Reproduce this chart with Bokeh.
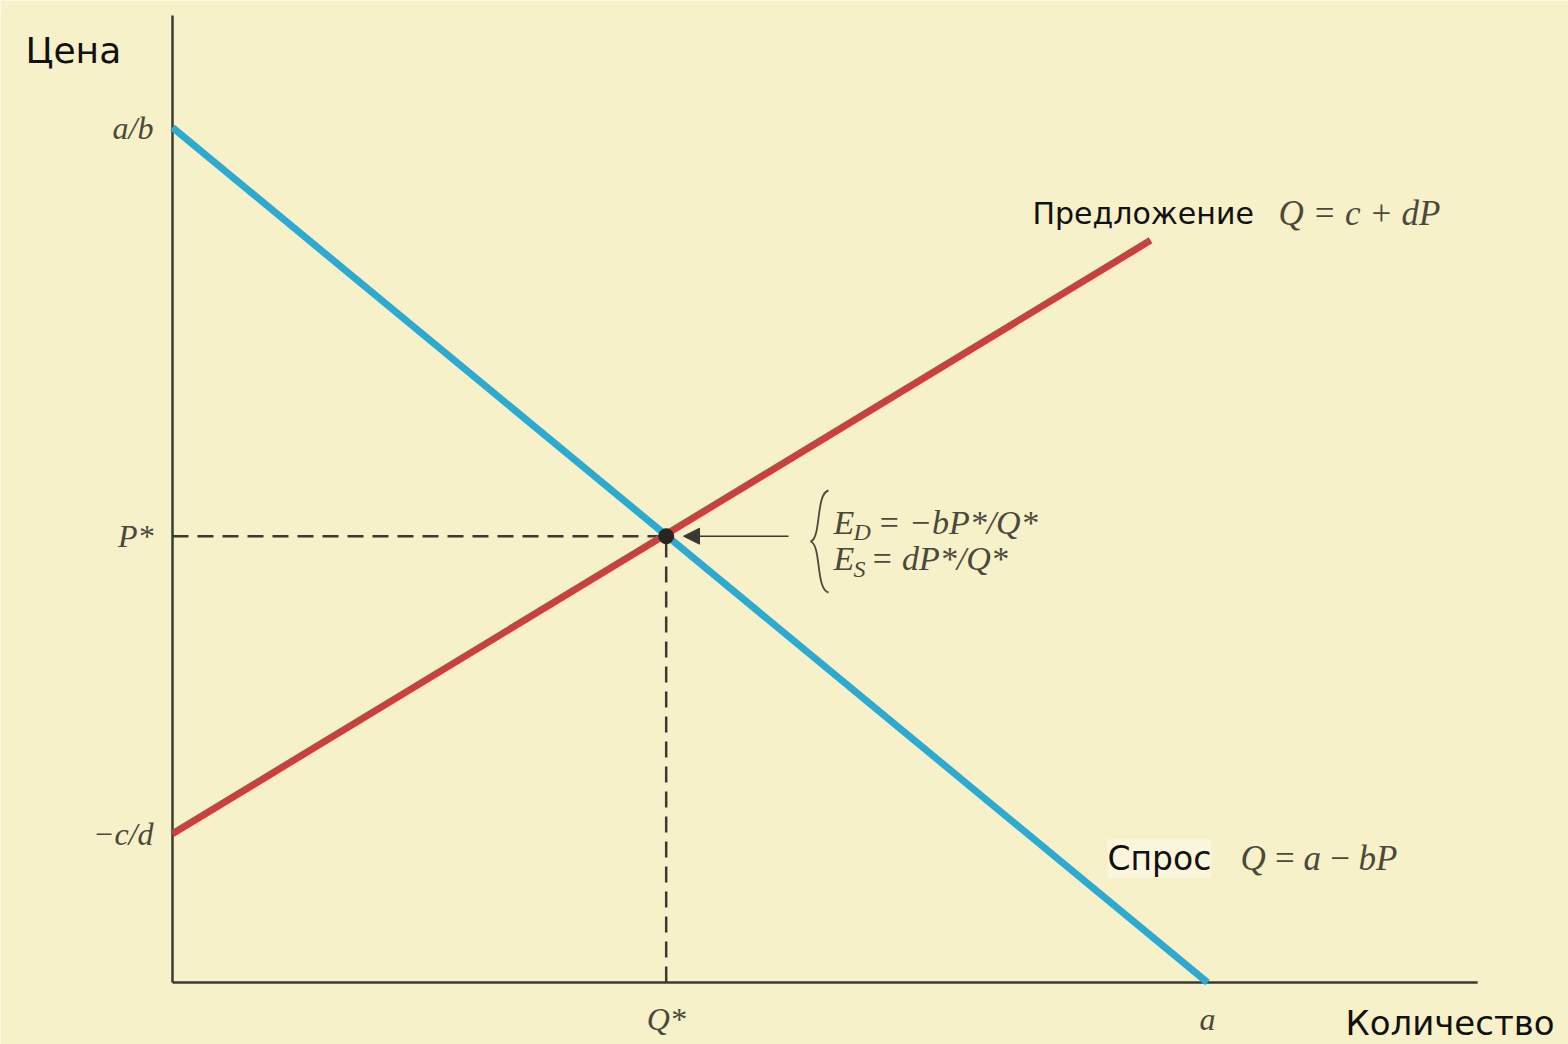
from bokeh.plotting import figure
from bokeh.models import Label, Arrow, NormalHead, Range1d
from bokeh.core.properties import value
from bokeh.embed import file_html
from bokeh.resources import INLINE

# ---- data (model in abstract units) ----
A = 10.0            # demand intercept on quantity axis (a)
A_OVER_B = 10.0     # demand intercept on price axis (a/b)
C_OVER_D = 1.74     # supply intercept on price axis (-c/d)
SUPPLY_END_Q = 9.45 # end of drawn supply line
SUPPLY_END_P = 8.68
Q_STAR = 4.77
P_STAR = 5.22

demand_q = [0.0, A]
demand_p = [A_OVER_B, 0.0]
supply_q = [0.0, SUPPLY_END_Q]
supply_p = [C_OVER_D, SUPPLY_END_P]

x_ticks = [Q_STAR, A]
x_tick_labels = ["Q*", "a"]
y_ticks = [C_OVER_D, P_STAR, A_OVER_B]
y_tick_labels = ["\u2212c/d", "P*", "a/b"]

X_AXIS_END = 12.61
Y_AXIS_END = 11.31

BG = "#f7f1c9"
AXIS_COL = "#3b3a30"
MATH_COL = "#4a493b"
BLUE = "#2ea9cf"
RED = "#c8413f"
SERIF = "Liberation Serif"
SANS = "DejaVu Sans"

W, H = 1568, 1044
X0_PX, Y0_PX = 172, 982      # page position of the origin
SX, SY = 103.5, 85.5         # px per unit

p = figure(width=W, height=H, output_backend="svg", toolbar_location=None,
           x_axis_location=None, y_axis_location=None,
           x_range=Range1d(-X0_PX / SX, (W - X0_PX) / SX),
           y_range=Range1d(-(H - Y0_PX) / SY, Y0_PX / SY),
           min_border=0)
p.background_fill_color = BG
p.border_fill_color = BG
p.outline_line_color = None
p.grid.visible = False

# axes
p.line([0, 0], [0, Y_AXIS_END], line_color=AXIS_COL, line_width=2.5)
p.line([0, X_AXIS_END], [0, 0], line_color=AXIS_COL, line_width=2.5)

# tick labels
p.text(x=[0] * len(y_ticks), y=y_ticks, text=y_tick_labels, x_offset=-19,
       text_align="right", text_baseline="middle", text_font=value(SERIF),
       text_font_style="italic", text_font_size="32px", text_color=MATH_COL)
p.text(x=x_ticks, y=[0] * len(x_ticks), text=x_tick_labels, y_offset=18,
       text_align="center", text_baseline="top", text_font=value(SERIF),
       text_font_style="italic", text_font_size="32px", text_color=MATH_COL)

# dashed equilibrium guides
p.line([0, Q_STAR], [P_STAR, P_STAR], line_color=AXIS_COL, line_width=2.5, line_dash="16 9")
p.line([Q_STAR, Q_STAR], [0, P_STAR], line_color=AXIS_COL, line_width=2.5, line_dash="16 9")

# curves
p.line(supply_q, supply_p, line_color=RED, line_width=7)
p.line(demand_q, demand_p, line_color=BLUE, line_width=7)

# equilibrium dot
p.scatter([Q_STAR], [P_STAR], size=15, color="#26261f")

# pixel helpers for annotations (page px -> data)
def fx(px):
    return (px - X0_PX) / SX

def fy(py):
    return (Y0_PX - py) / SY

# arrow pointing at equilibrium
p.add_layout(Arrow(x_start=fx(788), y_start=P_STAR, x_end=fx(683), y_end=P_STAR,
                   line_color=AXIS_COL, line_width=1.6,
                   end=NormalHead(size=16, fill_color=AXIS_COL, line_color=AXIS_COL)))

# brace
p.bezier(x0=[fx(828), fx(810)], y0=[fy(490), fy(541)],
         x1=[fx(810), fx(828)], y1=[fy(541), fy(592)],
         cx0=[fx(815), fx(821)], cy0=[fy(493), fy(544)],
         cx1=[fx(821), fx(815)], cy1=[fy(538), fy(589)],
         line_color=MATH_COL, line_width=1.8)

def lab(x, y, text, font, size, color, style="normal", bg=None):
    kw = {}
    if bg:
        kw = dict(background_fill_color=bg, background_fill_alpha=0.7)
    p.add_layout(Label(x=fx(x), y=fy(y), text=text, text_font=font, text_font_size=size,
                       text_color=color, text_font_style=style, text_baseline="middle",
                       text_align="left", **kw))

# elasticities
lab(833, 522, "E", SERIF, "34px", MATH_COL, "italic")
lab(853, 531, "D", SERIF, "24px", MATH_COL, "italic")
lab(877, 522, "= \u2212bP*/Q*", SERIF, "34px", MATH_COL, "italic")
lab(833, 558, "E", SERIF, "34px", MATH_COL, "italic")
lab(853, 568, "S", SERIF, "24px", MATH_COL, "italic")
lab(870, 558, "= dP*/Q*", SERIF, "34px", MATH_COL, "italic")

# curve names
lab(1032, 213, "Предложение", SANS, "30px", "#111111")
lab(1278, 213, "Q = c + dP", SERIF, "35px", MATH_COL, "italic")
lab(1107, 858, "Спрос", SANS, "33px", "#111111", bg="#fbf8e4")
lab(1240, 858, "Q\u2009=\u2009a\u2009\u2212\u2009bP", SERIF, "35px", MATH_COL, "italic")

# axis names
lab(25, 50, "Цена", SANS, "36px", "#111111")
lab(1345, 1022, "Количество", SANS, "34px", "#111111")

open("out.html", "w").write(file_html(p, INLINE))
